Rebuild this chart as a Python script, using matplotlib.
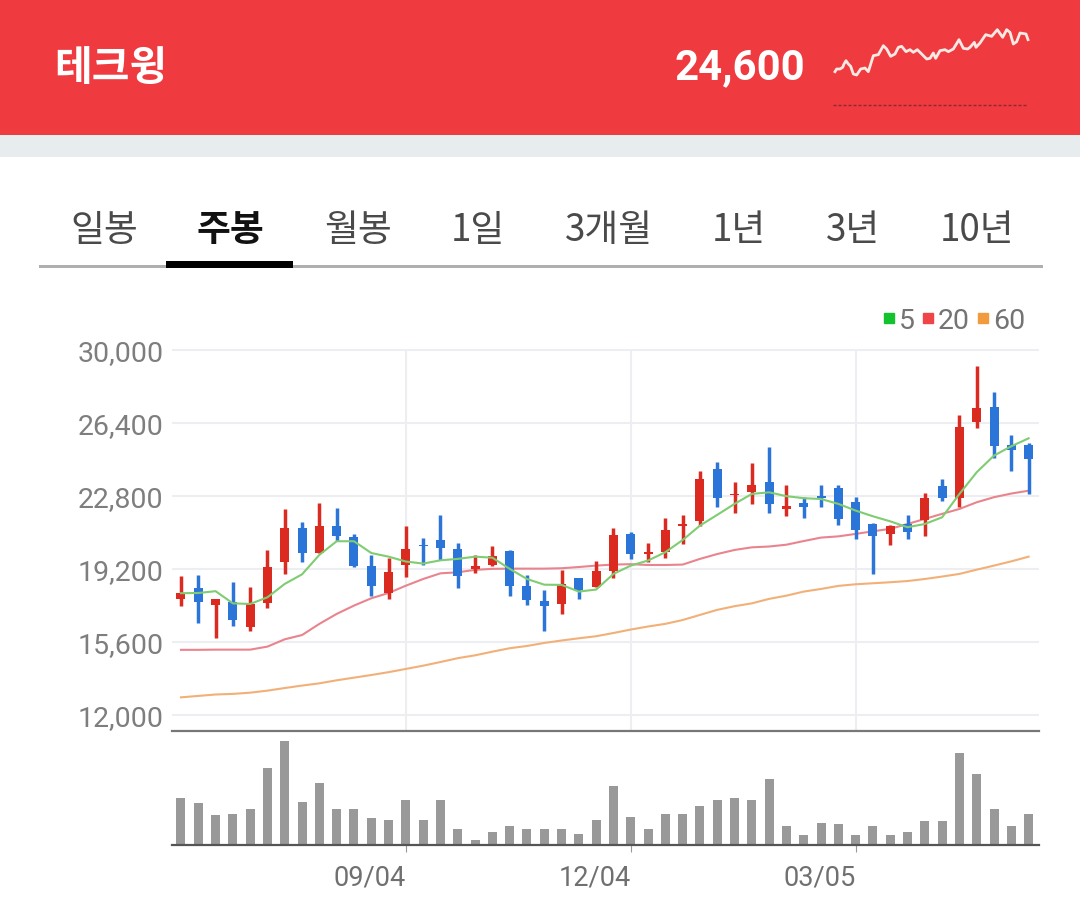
import matplotlib
matplotlib.use("Agg")
import matplotlib.pyplot as plt
from matplotlib.lines import Line2D
from matplotlib.patches import Rectangle
import numpy as np

KR = ['Noto Sans CJK KR', 'DejaVu Sans']

title = '테크윙'
last_price = '24,600'
tabs = ['일봉', '주봉', '월봉', '1일', '3개월', '1년', '3년', '10년']
active_tab = '주봉'
date_ticks = [13, 26, 39]
date_labels = ['09/04', '12/04', '03/05']
price_ticks = [12000, 15600, 19200, 22800, 26400, 30000]

open_ = [17730, 18240, 17440, 17550, 16320, 17500, 19560, 21230, 19980, 21310,
         20790, 19360, 18010, 19390, 20360, 20640, 20180, 19210, 19390, 20070,
         18370, 17620, 17460, 18750, 18330, 19100, 20940, 19950, 20020, 21330,
         21580, 24110, 22840, 23010, 23500, 22170, 22450, 22760, 23200, 22510,
         21400, 20920, 21400, 21630, 23270, 22710, 26450, 27160, 25320, 25290]
close = [18000, 17590, 17690, 16680, 17470, 19280, 21230, 20000, 21310, 20800,
         19340, 18340, 19060, 20180, 20310, 20230, 18870, 19360, 19820, 18340,
         17670, 17370, 18460, 18180, 19110, 20870, 19920, 20050, 21100, 21400,
         23650, 22710, 22910, 23350, 22410, 22280, 22270, 22710, 21660, 21120,
         20840, 21300, 21000, 22680, 22690, 26190, 27110, 25250, 25060, 24600]
high = [18830, 18900, 17690, 18540, 18310, 20120, 22130, 21530, 22450, 22220,
        20940, 19890, 19740, 21310, 20710, 21840, 20490, 19900, 20350, 20130,
        18900, 18140, 19160, 18770, 19570, 21230, 21020, 20480, 21690, 21840,
        24010, 24470, 23500, 24400, 25220, 23350, 22730, 23350, 23350, 22730,
        21460, 21360, 21840, 22960, 23650, 26800, 29210, 27930, 25810, 25420]
low = [17360, 16540, 15780, 16400, 16160, 17290, 18950, 19540, 19980, 20570,
       19310, 17880, 17730, 18790, 19390, 19660, 18280, 19000, 19330, 17880,
       17440, 16160, 16980, 17730, 18290, 18740, 19690, 19560, 19750, 20440,
       21330, 22230, 21940, 22400, 21940, 21790, 21710, 22250, 21350, 20670,
       18930, 20360, 20670, 20800, 22530, 22270, 26140, 24660, 24040, 22910]
ma5 = [18000, 18010, 18100, 17500, 17470, 17800, 18460, 18930, 19890, 20560,
       20560, 19980, 19800, 19560, 19460, 19620, 19690, 19800, 19750, 19200,
       18700, 18420, 18410, 18080, 18180, 18950, 19360, 19610, 20020, 20620,
       21330, 21860, 22400, 22890, 22970, 22780, 22680, 22640, 22400, 22070,
       21790, 21540, 21250, 21410, 21740, 22890, 23960, 24780, 25240, 25630]
ma20 = [15210, 15210, 15220, 15220, 15220, 15370, 15730, 15940, 16490, 16980,
        17390, 17750, 18010, 18370, 18700, 18980, 19030, 19150, 19200, 19210,
        19210, 19210, 19230, 19290, 19360, 19410, 19430, 19390, 19390, 19410,
        19690, 19930, 20130, 20260, 20300, 20390, 20570, 20740, 20800, 20920,
        21050, 21170, 21410, 21660, 21910, 22150, 22480, 22730, 22910, 23050]
ma60 = [12870, 12940, 13010, 13040, 13100, 13200, 13330, 13450, 13560, 13710,
        13840, 13970, 14110, 14270, 14430, 14610, 14800, 14940, 15120, 15290,
        15400, 15550, 15670, 15780, 15880, 16040, 16210, 16360, 16490, 16680,
        16930, 17180, 17360, 17500, 17720, 17880, 18080, 18210, 18360, 18440,
        18490, 18540, 18600, 18700, 18820, 18950, 19160, 19360, 19570, 19800]
volume = [140, 126, 89, 94, 108, 231, 313, 130, 185, 108,
          108, 80, 76, 135, 76, 135, 48, 16, 39, 57,
          48, 48, 48, 34, 76, 176, 84, 48, 94, 94,
          117, 135, 140, 135, 199, 57, 30, 66, 62, 30,
          57, 30, 39, 71, 71, 277, 213, 108, 57, 94]
spark_x = [45, 50, 60, 68, 72, 78, 85, 92, 100, 110, 122, 135, 145, 160, 175, 190, 200, 212,
           225, 235, 245, 258, 270, 280, 292, 305, 320, 330, 340, 347, 360, 375, 385, 400,
           417, 430, 443, 450, 463, 468, 480, 497, 515, 532, 548, 560, 570, 580, 590, 600,
           618, 624]
spark_y = [15000, 15800, 15800, 16300, 17300, 18300, 17300, 16600, 14300, 14000, 15800, 16100,
           15000, 19800, 20100, 22800, 21800, 19600, 20300, 22300, 22600, 21000, 21600, 20800,
           21600, 20300, 18800, 19000, 20600, 19000, 21300, 21600, 21000, 21800, 24600, 22000,
           21800, 22300, 23800, 22300, 23600, 26100, 25600, 27600, 25300, 27600, 26800, 23300,
           24000, 26600, 26300, 24600]
spark_low = 5100

W, H = 1080, 903
RED = '#DB2A20'
BLUE = '#2B75D9'


def px_axes(fig, x0, y0, x1, y1, **kw):
    return fig.add_axes([x0 / W, 1 - y1 / H, (x1 - x0) / W, (y1 - y0) / H], **kw)


fig = plt.figure(figsize=(W / 100, H / 100), dpi=100, facecolor='white')

# page chrome
bg = px_axes(fig, 0, 0, W, H)
bg.set_xlim(0, W)
bg.set_ylim(H, 0)
bg.axis('off')
bg.add_patch(Rectangle((0, 0), W, 135.5, color='#EF3A3F', lw=0))
bg.add_patch(Rectangle((0, 135.5), W, 22, color='#E7ECEF', lw=0))
bg.text(54, 68, title, color='white', fontsize=29.5, fontweight='bold', family=KR, va='center', ha='left')
bg.text(805, 67.5, last_price, color='white', fontsize=30.2, fontweight='bold', family='Roboto', va='center', ha='right')
tab_centers = [104, 230, 358, 478, 609, 739, 853, 977]
for name, cx in zip(tabs, tab_centers):
    on = name == active_tab
    bg.text(cx, 231, name, fontsize=26.5, family=KR, ha='center', va='center',
            color='#111111' if on else '#4A4A4A', fontweight='bold' if on else 'normal')
bg.add_patch(Rectangle((39, 265.5), 1004, 3, color='#AFAFAF', lw=0))
bg.add_patch(Rectangle((166, 262), 127, 6.5, color='#000000', lw=0))

# sparkline
sp = px_axes(fig, 820, 20, 1040, 120)
sp.patch.set_alpha(0)
sp.set_xlim(0, 660)
sp.set_ylim(800, 30800)
sp.axis('off')
sp.plot(spark_x, spark_y, color='#FBE9E4', lw=2.0)
sp.plot([40, 622], [spark_low, spark_low], color='#8E2A2C', lw=1, ls=(0, (2.2, 1.4)))

# price panel
ax = px_axes(fig, 172, 350, 1039, 732)
ax.patch.set_alpha(0)
xlim = (-0.52, 49.6)
ax.set_xlim(*xlim)
ax.set_ylim(11212, 30030)
for s in ['top', 'left', 'right']:
    ax.spines[s].set_visible(False)
ax.spines['bottom'].set_color('#777777')
ax.spines['bottom'].set_linewidth(1.6)
ax.set_axisbelow(True)
ax.grid(True, color='#ECEEF1', lw=1.5)
ax.set_yticks(price_ticks)
ax.set_yticklabels([f'{v:,}' for v in price_ticks], fontsize=20.5, family='Roboto', color='#7E7E7E')
ax.set_xticks(date_ticks)
ax.tick_params(axis='x', length=0, labelbottom=False)
ax.tick_params(axis='y', length=0, pad=6)

x = np.arange(len(close))
op, cl, hi, lo = map(np.array, (open_, close, high, low))
colors = [RED if c >= o else BLUE for o, c in zip(op, cl)]
ax.plot(x, ma60, color='#F2B079', lw=1.5, zorder=2)
ax.plot(x, ma20, color='#E9848E', lw=1.5, zorder=2)
ax.vlines(x, lo, hi, colors=colors, lw=2.5, zorder=3)
ax.bar(x, np.maximum(np.abs(cl - op), 60), bottom=np.minimum(op, cl), width=0.52, color=colors, lw=0, zorder=3)
ax.plot(x, ma5, color='#7FCC72', lw=1.5, zorder=4)

handles = [Line2D([], [], color=c, marker='s', ms=7, ls='none') for c in ('#12C22E', '#EF4548', '#F19A3E')]
ax.legend(handles, ['5', '20', '60'], ncol=3, loc='lower right', bbox_to_anchor=(0.992, 1.02), frameon=False,
          prop={'family': 'Roboto', 'size': 20.5}, labelcolor='#747474', handletextpad=0.1, columnspacing=0.2,
          handlelength=0.5, borderpad=0.1, borderaxespad=0.15)

# volume panel
vx = px_axes(fig, 172, 732, 1039, 846)
vx.patch.set_alpha(0)
vx.set_xlim(*xlim)
vx.set_ylim(0, 342)
for s in ['top', 'left', 'right']:
    vx.spines[s].set_visible(False)
vx.spines['bottom'].set_color('#555555')
vx.spines['bottom'].set_linewidth(1.6)
vx.bar(x, volume, width=0.52, color='#999999', lw=0)
vx.set_yticks([])
vx.set_xticks(date_ticks)
vx.set_xticklabels(date_labels, fontsize=19.5, family='Roboto', color='#707070', ha='right')
vx.tick_params(axis='x', length=5, width=0.8, color='#999999', pad=8)

fig.savefig('out.png', dpi=100)
